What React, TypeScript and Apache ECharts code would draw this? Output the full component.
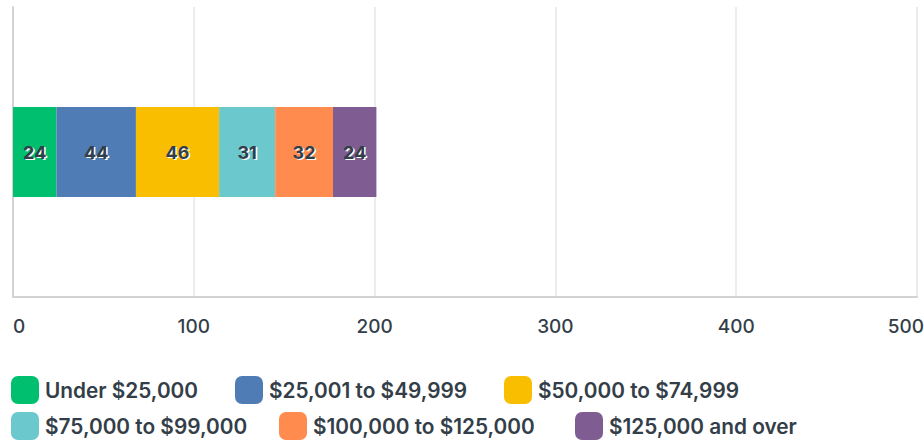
import React, { useEffect, useRef } from "react";
import * as echarts from "echarts";

const categories = ["Income"];
const seriesNames = [
  "Under $25,000",
  "$25,001 to $49,999",
  "$50,000 to $74,999",
  "$75,000 to $99,000",
  "$100,000 to $125,000",
  "$125,000 and over",
];
const seriesValues = [24, 44, 46, 31, 32, 24];
const seriesColors = ["#00bf6f", "#507cb6", "#f9be00", "#6bc8cd", "#ff8b4f", "#7f5d92"];
const xTicks = { min: 0, max: 500, interval: 100 };

const textColor = "#333e48";
const font = "Inter, 'Noto Sans', sans-serif";

// legend item placement (layout only)
const legendPos = [
  { left: 11, top: 376 },
  { left: 235, top: 376 },
  { left: 504, top: 376 },
  { left: 11, top: 412 },
  { left: 279, top: 412 },
  { left: 575, top: 412 },
];

export default function App() {
  const ref = useRef<HTMLDivElement>(null);
  useEffect(() => {
    if (!ref.current) return;
    const chart = echarts.init(ref.current, undefined, { renderer: "svg" });
    const labelBase = {
      show: true,
      position: "inside",
      fontSize: 18,
      fontWeight: 700,
      fontFamily: font,
    };
    const shadowSeries = seriesNames.map((name, i) => ({
      name: "shadow " + name,
      type: "bar",
      stack: "shadow",
      yAxisIndex: 1,
      barWidth: 90,
      silent: true,
      itemStyle: { color: "rgba(0,0,0,0)" },
      label: { ...labelBase, color: "#ffffff", offset: [1.5, 1.5] },
      data: [seriesValues[i]],
    }));
    const mainSeries = seriesNames.map((name, i) => ({
      name,
      type: "bar",
      stack: "total",
      yAxisIndex: 0,
      barWidth: 90,
      itemStyle: { color: seriesColors[i] },
      label: { ...labelBase, color: textColor },
      data: [seriesValues[i]],
    }));
    const tickFont = { color: textColor, fontSize: 19, fontWeight: 500, fontFamily: font };
    chart.setOption({
      animation: false,
      grid: { left: 13, right: 7, top: 7, bottom: 145, containLabel: false, outerBoundsMode: "none" },
      legend: seriesNames.map((name, i) => ({
        left: legendPos[i].left,
        top: legendPos[i].top,
        orient: "horizontal",
        itemWidth: 28,
        itemHeight: 28,
        icon: "roundRect",
        selectedMode: false,
        padding: 0,
        textStyle: { color: textColor, fontSize: 20.8, fontWeight: 600, fontFamily: font, padding: [0, 0, 0, 1] },
        data: [name],
      })),
      xAxis: {
        type: "value",
        min: xTicks.min,
        max: xTicks.max,
        interval: xTicks.interval,
        axisLine: { show: true, lineStyle: { color: "#d3d3d3", width: 2 } },
        axisTick: { show: false },
        splitLine: { show: true, lineStyle: { color: "#ececec", width: 2 } },
        axisLabel: {
          ...tickFont,
          margin: 20,
          alignMinLabel: "left",
          formatter: (v: number) => (v === xTicks.max ? "{m|" + v + "}" : String(v)),
          rich: { m: { ...tickFont, padding: [0, 22, 0, 0] } },
        },
      },
      yAxis: [
        {
          type: "category",
          data: categories,
          axisLine: { show: true, lineStyle: { color: "#d3d3d3", width: 2 } },
          axisTick: { show: false },
          axisLabel: { show: false },
        },
        {
          type: "category",
          data: categories,
          position: "left",
          axisLine: { show: false },
          axisTick: { show: false },
          axisLabel: { show: false },
          splitLine: { show: false },
        },
      ],
      series: [...shadowSeries, ...mainSeries],
    });
    return () => chart.dispose();
  }, []);
  return <div ref={ref} style={{ width: 924, height: 442, position: "absolute", left: 0, top: 0 }} />;
}
